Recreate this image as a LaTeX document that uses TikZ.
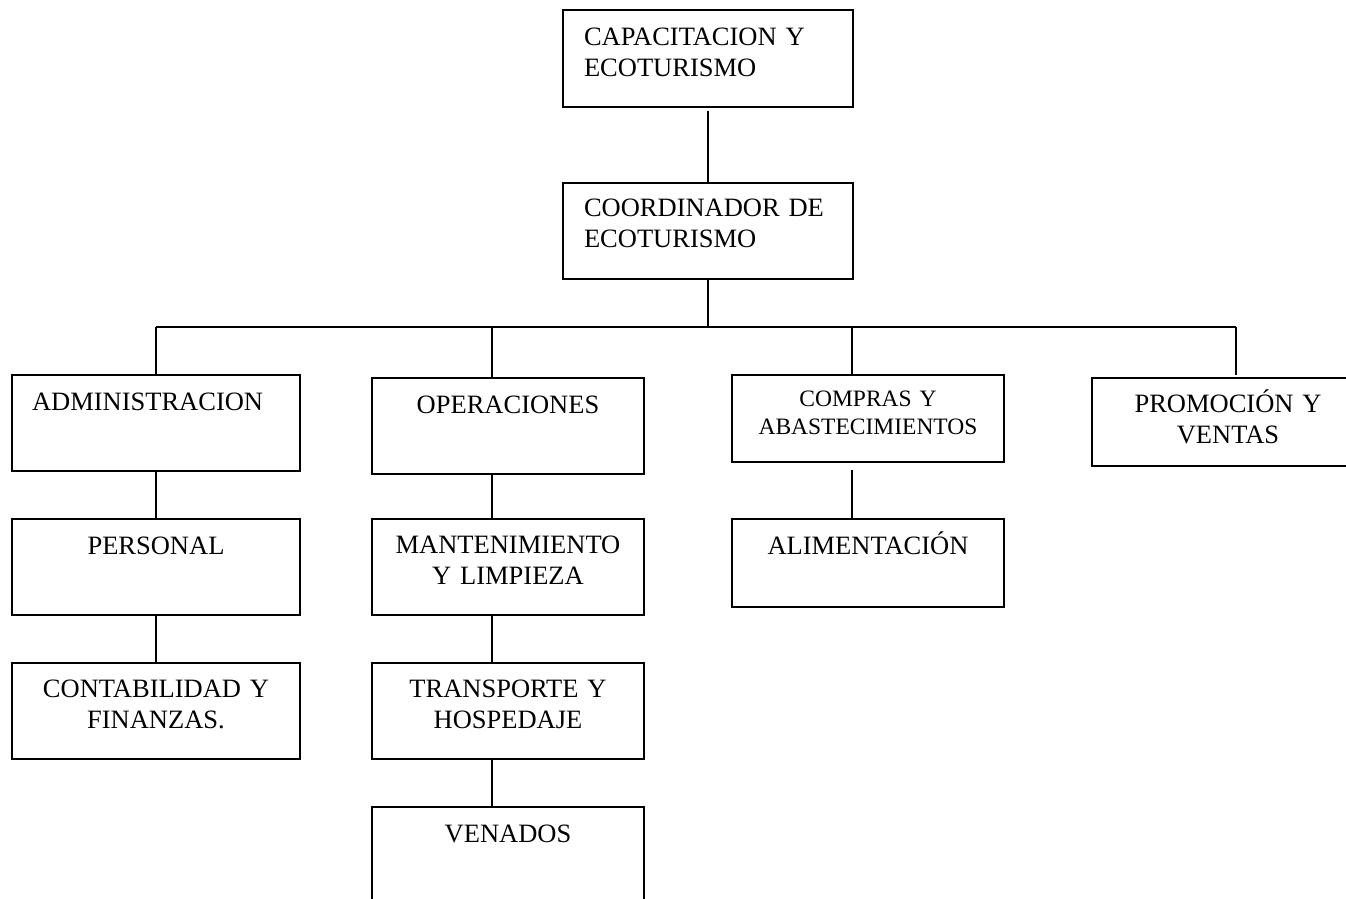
\documentclass[tikz,border=0pt]{standalone}
\usepackage{fontspec}
\setmainfont{Liberation Serif}
\begin{document}
\begin{tikzpicture}[x=1pt,y=1pt]
\tikzset{
  unit/.style={draw=drawColor,line width=1.8pt,inner ysep=0pt,outer sep=0pt,anchor=north west,
    font=\fontsize{26.5}{31}\selectfont},
  wide/.style={inner xsep=16pt,text width=240pt,align=center},
  link/.style={draw=drawColor,line width=1.6pt}
}
\definecolor{drawColor}{RGB}{0,0,0}
\path[use as bounding box] (0,0) rectangle (1346,899);
\begin{scope}
\path[clip] (0,0) rectangle (1346,899);

% direction
\node[unit,inner xsep=21pt,text width=248pt,align=left,text height=36pt,text depth=61pt] (cap) at (563,889) {CAPACITACION Y\\ECOTURISMO};
\node[unit,inner xsep=21pt,text width=248pt,align=left,text height=34pt,text depth=62pt] (coord) at (563,716) {COORDINADOR DE\\ECOTURISMO};

% areas
\node[unit,inner xsep=20pt,text width=248pt,align=left,text height=36pt,text depth=60pt] (admin) at (12,524) {ADMINISTRACION};
\node[unit,wide,text height=36pt,text depth=60pt] (op) at (372,521) {OPERACIONES};
\node[unit,wide,text height=32pt,text depth=55pt,font=\fontsize{23.5}{28}\selectfont] (cmp) at (732,524) {COMPRAS Y\\ABASTECIMIENTOS};
\node[unit,wide,text height=35pt,text depth=53pt] (promo) at (1092,521) {PROMOCIÓN Y\\VENTAS};

% second level
\node[unit,inner xsep=16pt,text width=256pt,align=center,text height=36pt,text depth=60pt] (pers) at (12,380) {PERSONAL};
\node[unit,inner xsep=16pt,text width=256pt,align=center,text height=35pt,text depth=61pt] (cont) at (12,236) {CONTABILIDAD Y\\FINANZAS.};
\node[unit,wide,text height=35pt,text depth=61pt] (mant) at (372,380) {MANTENIMIENTO\\Y LIMPIEZA};
\node[unit,wide,text height=35pt,text depth=61pt] (trans) at (372,236) {TRANSPORTE Y\\HOSPEDAJE};
\node[unit,wide,text height=36pt,text depth=100pt] (ven) at (372,92) {VENADOS};
\node[unit,wide,text height=36pt,text depth=52pt] (alim) at (732,380) {ALIMENTACIÓN};

% bus
\coordinate (busA) at (156,572);
\coordinate (busB) at (492,572);
\coordinate (busC) at (852,572);
\coordinate (busD) at (1236,572);

\draw[link,shorten <=4pt] (cap) -- (coord);
\draw[link] (coord.south) -- (coord.south |- busA);
\draw[link] (busA) -- (busD);
\draw[link] (busA) -- (admin.north);
\draw[link] (busB) -- (busB |- op.north);
\draw[link] (busC) -- (busC |- cmp.north);
\draw[link,shorten >=3pt] (busD) -- (busD |- promo.north);

\draw[link] (admin) -- (pers);
\draw[link] (pers) -- (cont);
\draw[link] (op.south -| busB) -- (mant.north -| busB);
\draw[link] (mant.south -| busB) -- (trans.north -| busB);
\draw[link] (trans.south -| busB) -- (ven.north -| busB);
\draw[link,shorten <=8pt] (cmp.south -| busC) -- (alim.north -| busC);
\end{scope}
\end{tikzpicture}
\end{document}
